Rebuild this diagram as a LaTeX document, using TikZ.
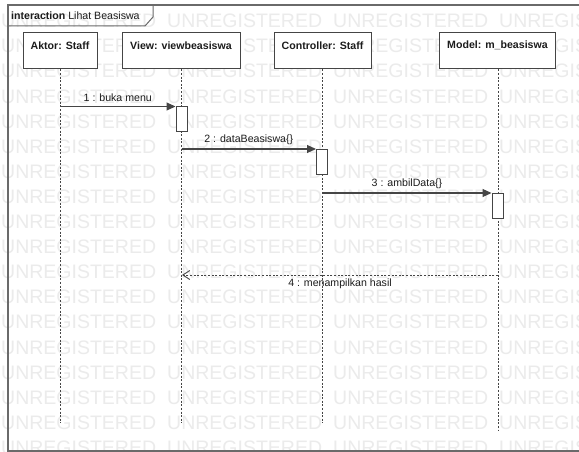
\documentclass[tikz,border=0pt]{standalone}
\usepackage{fontspec}
\setmainfont{Liberation Sans}
\usetikzlibrary{arrows.meta}
\definecolor{wmgray}{HTML}{EBEBEB}
\definecolor{linegray}{HTML}{454545}
\definecolor{framegray}{HTML}{6A6A6A}
\definecolor{txt}{HTML}{1C1C1C}
\begin{document}
\begin{tikzpicture}[x=1pt,y=-1pt,
  wmtext/.style={text=wmgray,inner sep=0pt,anchor=west,font=\fontsize{19.5}{20}\selectfont},
  framestyle/.style={draw=framegray,line width=1.4pt},
  hdr/.style={draw=linegray,line width=1pt,fill=white,minimum height=36pt,inner sep=0pt},
  hdrtitle/.style={text=txt,inner sep=0pt,font=\fontsize{10.6}{12}\selectfont\bfseries},
  actbox/.style={draw=linegray,line width=1pt,fill=white,minimum width=11pt,inner sep=0pt},
  life/.style={draw=linegray,line width=0.8pt,dash pattern=on 2pt off 1.6pt},
  msg/.style={draw=linegray,line width=1.1pt,-{Triangle[length=9pt,width=8pt]}},
  ret/.style={draw=linegray,line width=0.8pt,dash pattern=on 2pt off 1.6pt,-{Straight Barb[length=7pt,width=9pt,line width=0.9pt]}},
  lbl/.style={text=txt,inner sep=0pt,font=\fontsize{10.6}{12}\selectfont}]
\useasboundingbox (0,0) rectangle (579,452);
\clip (0,0) rectangle (579,452);
\fill[white] (0,0) rectangle (579,452);
% watermark
\foreach \r in {0,...,17}{
  \foreach \c in {0,...,3}{
    \node[wmtext] (wm-\r-\c) at (\c*166+1, 21+\r*25.1) {UNREGISTERED};
  }
}
% frame
\draw[framestyle] (8,5) rectangle (600,451);
\draw[framestyle,line width=1pt] (8,26) -- (145,26) -- (153,17) -- (153,5);
\node[lbl,anchor=west] (tag) at (11,15.5) {\textbf{interaction} Lihat Beasiswa};
% lifeline heads
\node[hdr,minimum width=74pt] (aktor) at (60,51) {};
\node[hdr,minimum width=118pt] (view) at (181,51) {};
\node[hdr,minimum width=97pt] (ctrl) at (322.5,51) {};
\node[hdr,minimum width=116pt] (model) at (497.5,51) {};
\node[hdrtitle] (aktor-t) at ([yshift=-13pt]aktor.north) {Aktor: Staff};
\node[hdrtitle] (view-t) at ([yshift=-13pt]view.north) {View: viewbeasiswa};
\node[hdrtitle] (ctrl-t) at ([yshift=-13pt]ctrl.north) {Controller: Staff};
\node[hdrtitle] (model-t) at ([yshift=-13pt]model.north) {Model: m\_beasiswa};
% lifeline ends
\coordinate (aktor-e) at (60,423);
\coordinate (view-e) at (181.5,423);
\coordinate (ctrl-e) at (322.5,423);
\coordinate (model-e) at (498,431);
\draw[life] (aktor.south) -- (aktor-e);
\draw[life] ([xshift=0.5pt]view.south) -- (view-e);
\draw[life] (ctrl.south) -- (ctrl-e);
\draw[life] ([xshift=0.5pt]model.south) -- (model-e);
% activations
\node[actbox,minimum height=25pt,anchor=north] (act1) at (181.5,106.5) {};
\node[actbox,minimum height=25pt,anchor=north] (act2) at (322,149) {};
\node[actbox,minimum height=25pt,anchor=north] (act3) at (497.5,193) {};
% messages
\draw[msg] (aktor-e |- act1.north west) -- node[lbl,above=4pt] (m1) {1 : buka menu} (act1.north west);
\draw[msg] (view-e |- act2.north west) -- node[lbl,above=4pt] (m2) {2 : dataBeasiswa\{\}} (act2.north west);
\draw[msg] (ctrl-e |- act3.north west) -- node[lbl,above=4pt] (m3) {3 : ambilData\{\}} (act3.north west);
\coordinate (r4s) at (498,275);
\coordinate (r4e) at (182,275);
\draw[ret] (r4s) -- node[lbl,below=3pt] (m4) {4 : menampilkan hasil} (r4e);
\end{tikzpicture}
\end{document}
